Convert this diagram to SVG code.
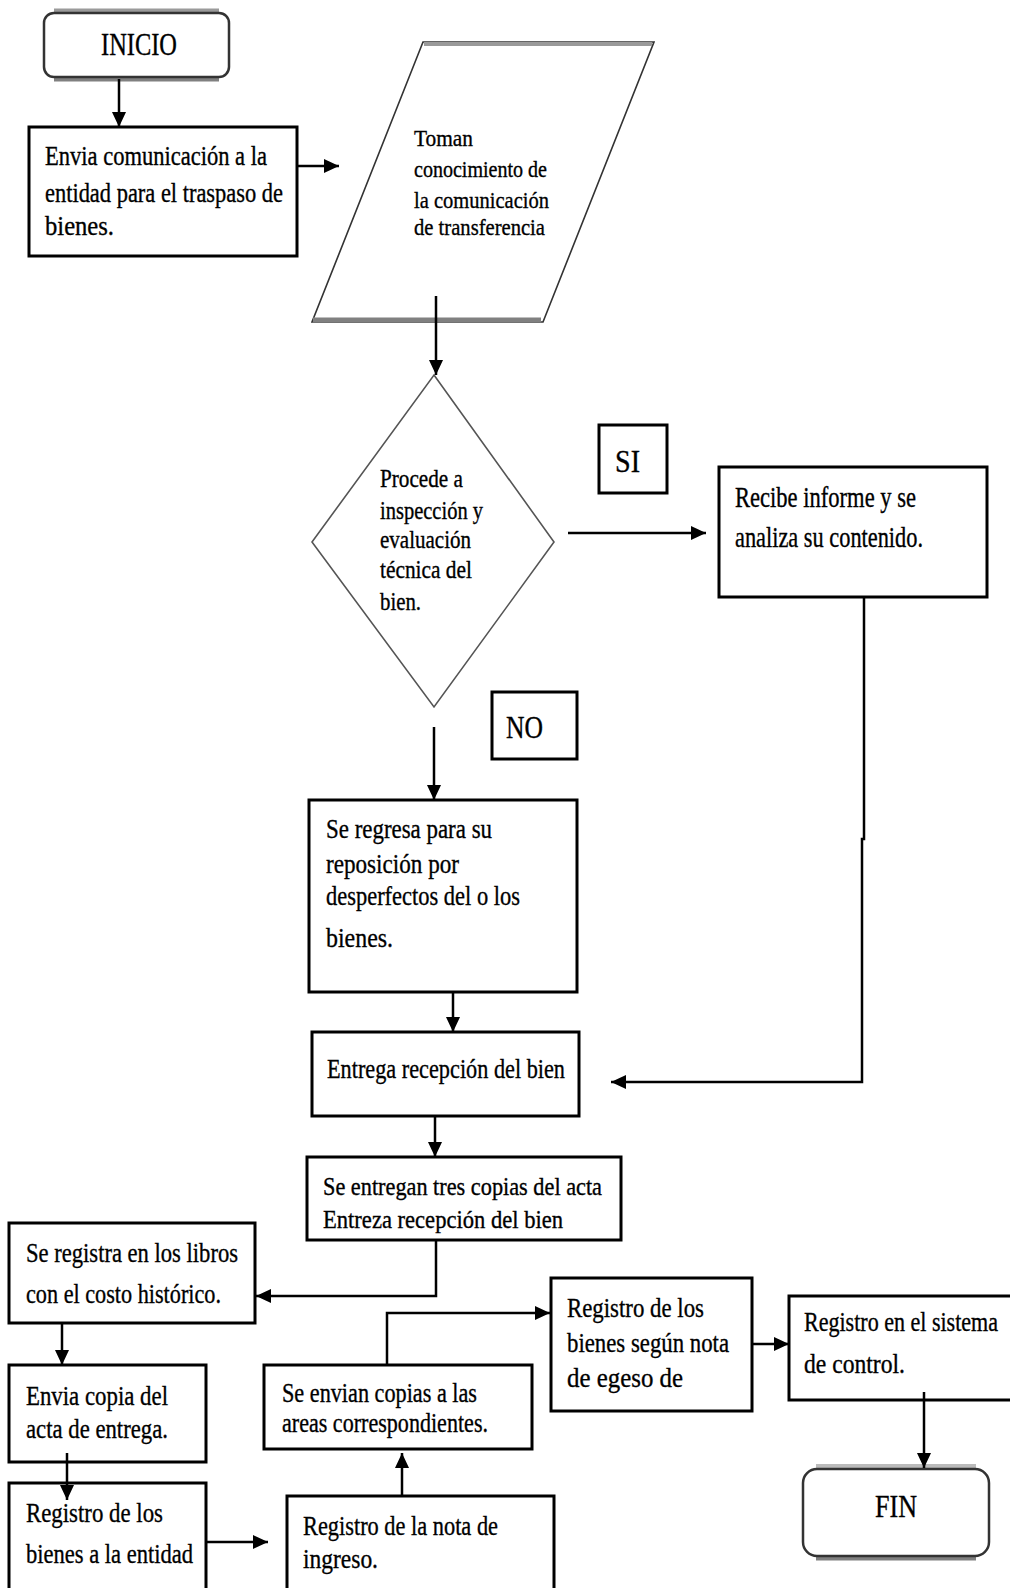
<svg xmlns="http://www.w3.org/2000/svg" width="1010" height="1588" viewBox="0 0 1010 1588">
<style>
.t{font-family:"Liberation Serif","Times New Roman",serif;fill:#000;stroke:#000;stroke-width:0.35;}
.box{fill:#fff;stroke:#000;stroke-width:3;}
.conn{fill:none;stroke:#000;stroke-width:2.5;}
.shadowTop{stroke:#9a9a9a;stroke-width:4;fill:none;}
.shadowBot{stroke:#808080;stroke-width:5;fill:none;}
</style>
<defs>
<marker id="ah" markerUnits="userSpaceOnUse" markerWidth="16" markerHeight="14" refX="15" refY="7" orient="auto">
<path d="M0,0 L15,7 L0,14 z" fill="#000"/>
</marker>
</defs>
<rect width="1010" height="1588" fill="#fff"/>

<g id="inicio">
<line class="shadowTop" x1="54" y1="10.5" x2="219" y2="10.5"/>
<line class="shadowBot" x1="54" y1="79" x2="219" y2="79"/>
<rect x="44" y="13" width="185" height="64" rx="10" fill="#fff" stroke="#333" stroke-width="2.5"/>
<text class="t" x="101" y="55" font-size="31" textLength="76" lengthAdjust="spacingAndGlyphs">INICIO</text>
</g>

<g id="envia">
<rect class="box" x="29" y="127" width="268" height="129"/>
<text class="t" x="45" y="165" font-size="27" textLength="222" lengthAdjust="spacingAndGlyphs">Envia comunicación a la</text>
<text class="t" x="45" y="202" font-size="27" textLength="238" lengthAdjust="spacingAndGlyphs">entidad para el traspaso de</text>
<text class="t" x="45" y="235" font-size="27" textLength="69" lengthAdjust="spacingAndGlyphs">bienes.</text>
</g>

<g id="toman">
<polygon points="423,42 654,42 543,322 312,322" fill="#fff" stroke="#333" stroke-width="1.6"/>
<line class="shadowTop" x1="424" y1="44" x2="652" y2="44"/>
<line class="shadowBot" x1="313" y1="320" x2="541" y2="320"/>
<text class="t" x="414" y="146" font-size="24" textLength="59" lengthAdjust="spacingAndGlyphs">Toman</text>
<text class="t" x="414" y="177" font-size="24" textLength="133" lengthAdjust="spacingAndGlyphs">conocimiento de</text>
<text class="t" x="414" y="208" font-size="24" textLength="135" lengthAdjust="spacingAndGlyphs">la comunicación</text>
<text class="t" x="414" y="235" font-size="24" textLength="131" lengthAdjust="spacingAndGlyphs">de transferencia</text>
</g>

<g id="decision">
<polygon points="434,375 554,542 434,707 312,542" fill="#fff" stroke="#555" stroke-width="1.6"/>
<text class="t" x="380" y="487" font-size="25" textLength="83" lengthAdjust="spacingAndGlyphs">Procede a</text>
<text class="t" x="380" y="519" font-size="25" textLength="103" lengthAdjust="spacingAndGlyphs">inspección y</text>
<text class="t" x="380" y="548" font-size="25" textLength="91" lengthAdjust="spacingAndGlyphs">evaluación</text>
<text class="t" x="380" y="578" font-size="25" textLength="92" lengthAdjust="spacingAndGlyphs">técnica del</text>
<text class="t" x="380" y="610" font-size="25" textLength="41" lengthAdjust="spacingAndGlyphs">bien.</text>
</g>

<g id="si">
<rect class="box" x="599" y="425" width="68" height="68"/>
<text class="t" x="615" y="472" font-size="31" textLength="25" lengthAdjust="spacingAndGlyphs">SI</text>
</g>

<g id="recibe">
<rect class="box" x="719" y="467" width="268" height="130"/>
<text class="t" x="735" y="507" font-size="29" textLength="181" lengthAdjust="spacingAndGlyphs">Recibe informe y se</text>
<text class="t" x="735" y="547" font-size="29" textLength="188" lengthAdjust="spacingAndGlyphs">analiza su contenido.</text>
</g>

<g id="no">
<rect class="box" x="492" y="692" width="85" height="67"/>
<text class="t" x="506" y="738" font-size="31" textLength="37" lengthAdjust="spacingAndGlyphs">NO</text>
</g>

<g id="regresa">
<rect class="box" x="309" y="800" width="268" height="192"/>
<text class="t" x="326" y="838" font-size="28" textLength="166" lengthAdjust="spacingAndGlyphs">Se regresa para su</text>
<text class="t" x="326" y="873" font-size="28" textLength="133" lengthAdjust="spacingAndGlyphs">reposición por</text>
<text class="t" x="326" y="905" font-size="28" textLength="194" lengthAdjust="spacingAndGlyphs">desperfectos del o los</text>
<text class="t" x="326" y="947" font-size="28" textLength="67" lengthAdjust="spacingAndGlyphs">bienes.</text>
</g>

<g id="entrega">
<rect class="box" x="312" y="1032" width="267" height="84"/>
<text class="t" x="327" y="1078" font-size="28" textLength="238" lengthAdjust="spacingAndGlyphs">Entrega recepción del bien</text>
</g>

<g id="entregan">
<rect class="box" x="307" y="1157" width="314" height="83"/>
<text class="t" x="323" y="1195" font-size="26" textLength="279" lengthAdjust="spacingAndGlyphs">Se entregan tres copias del acta</text>
<text class="t" x="323" y="1228" font-size="26" textLength="240" lengthAdjust="spacingAndGlyphs">Entreza recepción del bien</text>
</g>

<g id="registra">
<rect class="box" x="9" y="1223" width="246" height="100"/>
<text class="t" x="26" y="1262" font-size="28" textLength="212" lengthAdjust="spacingAndGlyphs">Se registra en los libros</text>
<text class="t" x="26" y="1303" font-size="28" textLength="195" lengthAdjust="spacingAndGlyphs">con el costo histórico.</text>
</g>

<g id="enviacopia">
<rect class="box" x="9" y="1365" width="197" height="97"/>
<text class="t" x="26" y="1405" font-size="28" textLength="142" lengthAdjust="spacingAndGlyphs">Envia copia del</text>
<text class="t" x="26" y="1438" font-size="28" textLength="142" lengthAdjust="spacingAndGlyphs">acta de entrega.</text>
</g>

<g id="registrobienes">
<rect class="box" x="9" y="1483" width="197" height="130"/>
<text class="t" x="26" y="1522" font-size="28" textLength="137" lengthAdjust="spacingAndGlyphs">Registro de los</text>
<text class="t" x="26" y="1563" font-size="28" textLength="167" lengthAdjust="spacingAndGlyphs">bienes a la entidad</text>
</g>

<g id="registronota">
<rect class="box" x="287" y="1496" width="267" height="120"/>
<text class="t" x="303" y="1535" font-size="28" textLength="195" lengthAdjust="spacingAndGlyphs">Registro de la nota de</text>
<text class="t" x="303" y="1568" font-size="28" textLength="75" lengthAdjust="spacingAndGlyphs">ingreso.</text>
</g>

<g id="envian">
<rect class="box" x="264" y="1365" width="268" height="84"/>
<text class="t" x="282" y="1402" font-size="27" textLength="195" lengthAdjust="spacingAndGlyphs">Se envian copias a las</text>
<text class="t" x="282" y="1432" font-size="27" textLength="206" lengthAdjust="spacingAndGlyphs">areas correspondientes.</text>
</g>

<g id="registrosegun">
<rect class="box" x="551" y="1278" width="201" height="133"/>
<text class="t" x="567" y="1317" font-size="28" textLength="137" lengthAdjust="spacingAndGlyphs">Registro de los</text>
<text class="t" x="567" y="1352" font-size="28" textLength="162" lengthAdjust="spacingAndGlyphs">bienes según nota</text>
<text class="t" x="567" y="1387" font-size="28" textLength="116" lengthAdjust="spacingAndGlyphs">de egeso de</text>
</g>

<g id="registrosistema">
<rect class="box" x="789" y="1296" width="223" height="104"/>
<text class="t" x="804" y="1331" font-size="27" textLength="194" lengthAdjust="spacingAndGlyphs">Registro en el sistema</text>
<text class="t" x="804" y="1373" font-size="27" textLength="101" lengthAdjust="spacingAndGlyphs">de control.</text>
</g>

<g id="fin">
<line x1="816" y1="1466" x2="976" y2="1466" stroke="#bbb" stroke-width="4"/>
<line class="shadowBot" x1="816" y1="1558" x2="976" y2="1558"/>
<rect x="803" y="1469" width="186" height="87" rx="14" fill="#fff" stroke="#333" stroke-width="2.5"/>
<text class="t" x="875" y="1517" font-size="31" textLength="42" lengthAdjust="spacingAndGlyphs">FIN</text>
</g>

<g id="connectors">
<path class="conn" d="M119,79 V127" marker-end="url(#ah)"/>
<path class="conn" d="M297,166 H339" marker-end="url(#ah)"/>
<path class="conn" d="M436,296 V375" marker-end="url(#ah)"/>
<path class="conn" d="M568,533 H706" marker-end="url(#ah)"/>
<path class="conn" d="M434,727 V800" marker-end="url(#ah)"/>
<path class="conn" d="M864,597 V839 H862 V1082 H611" marker-end="url(#ah)"/>
<path class="conn" d="M453,992 V1032" marker-end="url(#ah)"/>
<path class="conn" d="M435,1116 V1157" marker-end="url(#ah)"/>
<path class="conn" d="M436,1240 V1296 H256" marker-end="url(#ah)"/>
<path class="conn" d="M62,1323 V1365" marker-end="url(#ah)"/>
<path class="conn" d="M67,1453 V1500" marker-end="url(#ah)"/>
<path class="conn" d="M206,1542 H268" marker-end="url(#ah)"/>
<path class="conn" d="M402,1496 V1453" marker-end="url(#ah)"/>
<path class="conn" d="M387,1365 V1313 H550" marker-end="url(#ah)"/>
<path class="conn" d="M752,1344 H789" marker-end="url(#ah)"/>
<path class="conn" d="M924,1392 V1468" marker-end="url(#ah)"/>
</g>
</svg>
